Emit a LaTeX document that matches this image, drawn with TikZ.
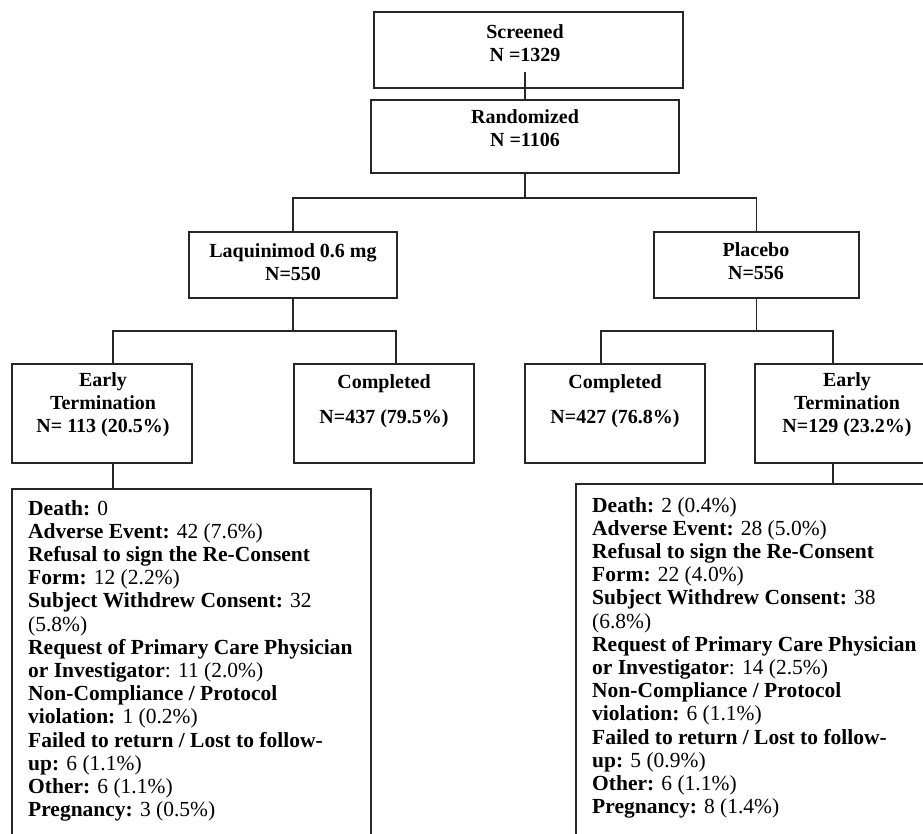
\documentclass[tikz,border=0pt]{standalone}
\usepackage{fontspec}
\setmainfont{Liberation Serif}
\begin{document}
\begin{tikzpicture}[x=1pt,y=-1pt,
  box/.style={draw=black!85, line width=1.6pt, inner sep=0pt},
  conn/.style={draw=black!85, line width=1.6pt},
  txt/.style={font=\fontsize{20}{23.2}\selectfont\bfseries, align=center, inner sep=0pt, text=black},
  listtxt/.style={font=\fontsize{21.5}{23.2}\selectfont, align=left, inner sep=0pt, anchor=north west, text=black}]
\useasboundingbox (0,0) rectangle (923,834);
\clip (0,0) rectangle (923,834);
% boxes
\node[box, minimum width=309, minimum height=76] (scr) at (528.5,50) {};
\node[box, minimum width=308, minimum height=73] (rnd) at (525,136.5) {};
\node[box, minimum width=208, minimum height=66] (lq) at (293,265) {};
\node[box, minimum width=205, minimum height=66] (pl) at (756.5,265) {};
\node[box, minimum width=180, minimum height=99] (etl) at (102,413.5) {};
\node[box, minimum width=180, minimum height=99] (cpl) at (384,413.5) {};
\node[box, minimum width=180, minimum height=99] (cpr) at (615,413.5) {};
\node[box, minimum width=184, minimum height=99] (etr) at (847,413.5) {};
\node[box, minimum width=359, minimum height=371] (lbl) at (191.5,674.5) {};
\node[box, minimum width=364, minimum height=376] (lbr) at (758,672) {};
% texts
\node[txt] (scrT) at (525,43.5) {Screened\\N =1329};
\node[txt] (rndT) at (525,128) {Randomized\\N =1106};
\node[txt] (lqT) at (293,262) {Laquinimod 0.6 mg\\N=550};
\node[txt] (plT) at (756,261) {Placebo\\N=556};
\node[txt] (etlT) at (103,404.5) {Early\\Termination\\N= 113 (20.5\%)};
\node[txt] (cplT) at (384,401.5) {Completed\\[12pt]N=437 (79.5\%)};
\node[txt] (cprT) at (615,401.5) {Completed\\[12pt]N=427 (76.8\%)};
\node[txt] (etrT) at (847,404.5) {Early\\Termination\\N=129 (23.2\%)};
\node[listtxt] (lblT) at (28,500) {\textbf{Death:} 0\\
\textbf{Adverse Event:} 42 (7.6\%)\\
\textbf{Refusal to sign the Re-Consent}\\
\textbf{Form:} 12 (2.2\%)\\
\textbf{Subject Withdrew Consent:} 32\\
(5.8\%)\\
\textbf{Request of Primary Care Physician}\\
\textbf{or Investigator}: 11 (2.0\%)\\
\textbf{Non-Compliance / Protocol}\\
\textbf{violation:} 1 (0.2\%)\\
\textbf{Failed to return / Lost to follow-}\\
\textbf{up:} 6 (1.1\%)\\
\textbf{Other:} 6 (1.1\%)\\
\textbf{Pregnancy:} 3 (0.5\%)};
\node[listtxt] (lbrT) at (592,497) {\textbf{Death:} 2 (0.4\%)\\
\textbf{Adverse Event:} 28 (5.0\%)\\
\textbf{Refusal to sign the Re-Consent}\\
\textbf{Form:} 22 (4.0\%)\\
\textbf{Subject Withdrew Consent:} 38\\
(6.8\%)\\
\textbf{Request of Primary Care Physician}\\
\textbf{or Investigator}: 14 (2.5\%)\\
\textbf{Non-Compliance / Protocol}\\
\textbf{violation:} 6 (1.1\%)\\
\textbf{Failed to return / Lost to follow-}\\
\textbf{up:} 5 (0.9\%)\\
\textbf{Other:} 6 (1.1\%)\\
\textbf{Pregnancy:} 8 (1.4\%)};
% helper coordinates
\coordinate (c1) at (525,72);
\coordinate (h1) at (0,198);
\coordinate (h2) at (0,331);
\coordinate (vA) at (113,0);
\coordinate (vB) at (396,0);
\coordinate (vC) at (601,0);
\coordinate (vD) at (833,0);
% connectors
\draw[conn] (c1) -- (c1 |- rnd.north);
\draw[conn] (rnd.south) -- (rnd.south |- h1);
\draw[conn] (lq.north) -- (lq.north |- h1) -- (pl.north |- h1) -- (pl.north);
\draw[conn] (lq.south) -- (lq.south |- h2);
\draw[conn] (vA |- etl.north) -- (vA |- h2) -- (vB |- h2) -- (vB |- cpl.north);
\draw[conn] (pl.south) -- (pl.south |- h2);
\draw[conn] (vC |- cpr.north) -- (vC |- h2) -- (vD |- h2) -- (vD |- etr.north);
\draw[conn] (vA |- etl.south) -- (vA |- lbl.north);
\draw[conn] (vD |- etr.south) -- (vD |- lbr.north);
\end{tikzpicture}
\end{document}
